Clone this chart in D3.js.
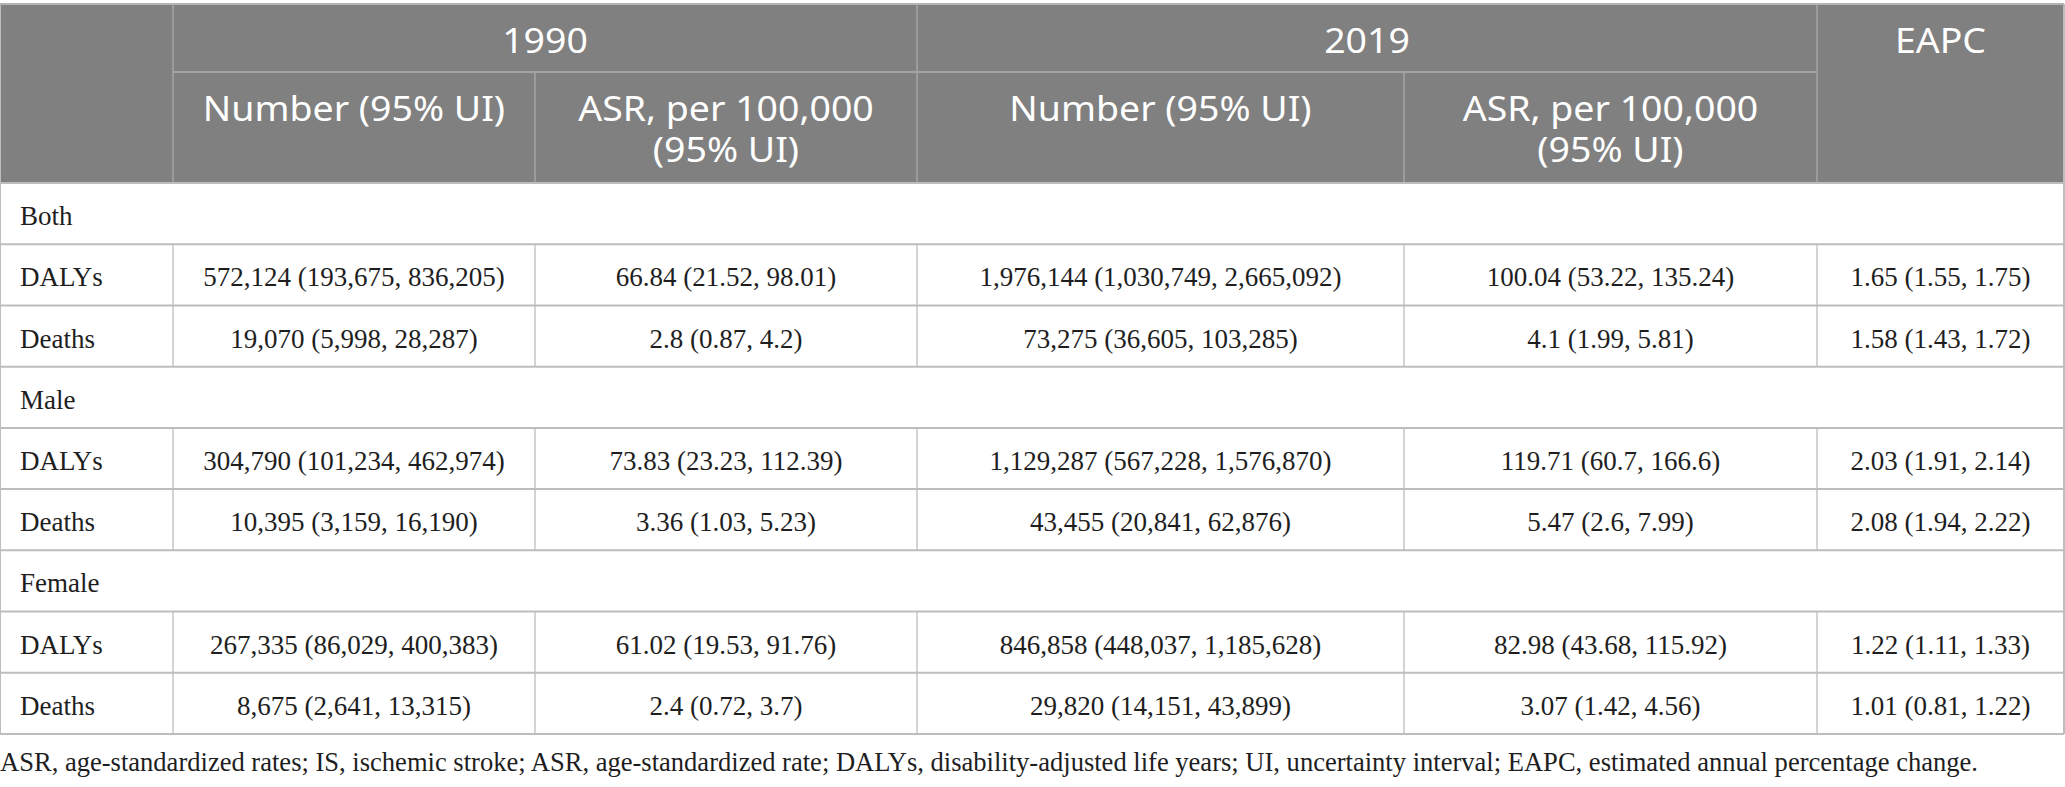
<!DOCTYPE html>
<html lang="en">
<head>
  <meta charset="UTF-8">
  <title>IS burden 1990 vs 2019</title>
  <style>
      body { margin: 0; background: white; }
      .head text { fill: white; font-family: "Noto Sans", "Open Sans", sans-serif; font-size: 35px; font-weight: 400; }
      .cell text { fill: #1e1e1e; font-family: "Liberation Serif", "DejaVu Serif", serif; font-size: 27px; }
      .note { fill: #1e1e1e; font-family: "Liberation Serif", serif; font-size: 28px; }
  </style>
</head>
<body>
<div id="table"></div>
<script src="https://d3js.org/d3.v7.min.js"></script>
<script>
  // groups and measures
  const groups = ["Both", "Male", "Female"];
  const measures = ["DALYs", "Deaths"];

  // values, one entry per group x measure: [estimate, lower, upper]
  const number1990 = [[572124, 193675, 836205], [19070, 5998, 28287],
                      [304790, 101234, 462974], [10395, 3159, 16190],
                      [267335, 86029, 400383], [8675, 2641, 13315]];
  const asr1990 = [[66.84, 21.52, 98.01], [2.8, 0.87, 4.2],
                   [73.83, 23.23, 112.39], [3.36, 1.03, 5.23],
                   [61.02, 19.53, 91.76], [2.4, 0.72, 3.7]];
  const number2019 = [[1976144, 1030749, 2665092], [73275, 36605, 103285],
                      [1129287, 567228, 1576870], [43455, 20841, 62876],
                      [846858, 448037, 1185628], [29820, 14151, 43899]];
  const asr2019 = [[100.04, 53.22, 135.24], [4.1, 1.99, 5.81],
                   [119.71, 60.7, 166.6], [5.47, 2.6, 7.99],
                   [82.98, 43.68, 115.92], [3.07, 1.42, 4.56]];
  const eapc = [[1.65, 1.55, 1.75], [1.58, 1.43, 1.72],
                [2.03, 1.91, 2.14], [2.08, 1.94, 2.22],
                [1.22, 1.11, 1.33], [1.01, 0.81, 1.22]];

  const years = ["1990", "2019"];
  const subHeads = ["Number (95% UI)", ["ASR, per 100,000", "(95% UI)"]];
  const footnote = "ASR, age-standardized rates; IS, ischemic stroke; ASR, age-standardized rate; DALYs, disability-adjusted life years; UI, uncertainty interval; EAPC, estimated annual percentage change.";

  const width = 2065, height = 787;
  const colEdges = [0, 173, 535, 917, 1404, 1817, 2064];
  const headTop = 4, headMid = 72, headBottom = 183, bodyBottom = 734;

  const svg = d3.select("#table").append("svg")
    .attr("width", width)
    .attr("height", height);

  const fmtNum = d3.format(",");
  const numText = v => `${fmtNum(v[0])} (${fmtNum(v[1])}, ${fmtNum(v[2])})`;
  const rateText = v => `${v[0]} (${v[1]}, ${v[2]})`;

  const columns = [
    {values: number1990, fmt: numText},
    {values: asr1990, fmt: rateText},
    {values: number2019, fmt: numText},
    {values: asr2019, fmt: rateText},
    {values: eapc, fmt: rateText}
  ];

  const x = d3.scaleOrdinal().domain(d3.range(colEdges.length)).range(colEdges);
  const colCenter = i => (x(i) + x(i + 1)) / 2;

  // body rows: each group has a title row then one row per measure
  const rows = [];
  groups.forEach((g, gi) => {
    rows.push({type: "group", label: g});
    measures.forEach((m, mi) => rows.push({type: "data", label: m, idx: gi * measures.length + mi}));
  });

  const y = d3.scaleBand()
    .domain(d3.range(rows.length))
    .range([headBottom, bodyBottom]);

  // stretch text a little, the header face in the original is wider than Noto
  function stretch(sel, k) {
    sel.each(function () {
      const w = this.getComputedTextLength();
      d3.select(this)
        .attr("textLength", w * k)
        .attr("lengthAdjust", "spacingAndGlyphs");
    });
  }

  // header block
  const head = svg.append("g").attr("class", "head");
  head.append("rect")
    .attr("x", x(0)).attr("y", headTop)
    .attr("width", x(6) - x(0)).attr("height", headBottom - headTop)
    .attr("fill", "#808080");

  const headLine = "#a4a4a4";
  head.append("line")
    .attr("x1", x(1)).attr("x2", x(5))
    .attr("y1", headMid).attr("y2", headMid)
    .attr("stroke", headLine).attr("stroke-width", 2);
  [1, 3, 5].forEach(i => head.append("line")
    .attr("x1", x(i)).attr("x2", x(i))
    .attr("y1", headTop).attr("y2", headBottom)
    .attr("stroke", headLine).attr("stroke-width", 1.5));
  [2, 4].forEach(i => head.append("line")
    .attr("x1", x(i)).attr("x2", x(i))
    .attr("y1", headMid).attr("y2", headBottom)
    .attr("stroke", headLine).attr("stroke-width", 1.5));

  years.forEach((yr, k) => {
    head.append("text")
      .attr("x", (x(1 + 2 * k) + x(3 + 2 * k)) / 2)
      .attr("y", 53)
      .attr("text-anchor", "middle")
      .text(yr);
    subHeads.forEach((s, j) => {
      const cx = colCenter(1 + 2 * k + j);
      const lines = Array.isArray(s) ? s : [s];
      lines.forEach((l, li) => head.append("text")
        .attr("x", cx)
        .attr("y", 121 + li * 40.5)
        .attr("text-anchor", "middle")
        .text(l));
    });
  });
  head.append("text")
    .attr("x", colCenter(5))
    .attr("y", 53)
    .attr("text-anchor", "middle")
    .text("EAPC");

  head.selectAll("text").call(stretch, 1.07);

  // body cells
  const body = svg.append("g").attr("class", "cell");
  const rowG = body.selectAll("g.row")
    .data(rows)
    .enter().append("g")
    .attr("class", "row")
    .attr("transform", (d, i) => `translate(0,${y(i)})`);

  const bh = y.bandwidth();

  rowG.append("text")
    .attr("x", 20)
    .attr("y", bh / 2 + 11.5)
    .text(d => d.label);

  rowG.filter(d => d.type === "data")
    .selectAll("text.val")
    .data(d => columns.map((c, ci) => ({text: c.fmt(c.values[d.idx]), col: ci + 1})))
    .enter().append("text")
    .attr("class", "val")
    .attr("x", d => colCenter(d.col))
    .attr("y", bh / 2 + 11.5)
    .attr("text-anchor", "middle")
    .text(d => d.text);

  // vertical rules on data rows
  rowG.filter(d => d.type === "data")
    .selectAll("line.v")
    .data([1, 2, 3, 4, 5])
    .enter().append("line")
    .attr("x1", d => x(d)).attr("x2", d => x(d))
    .attr("y1", 0).attr("y2", bh)
    .attr("stroke", "#c6c6c6").attr("stroke-width", 1.5);

  // horizontal rules
  body.selectAll("line.h")
    .data(d3.range(rows.length + 1))
    .enter().append("line")
    .attr("x1", x(0)).attr("x2", x(6))
    .attr("y1", i => i < rows.length ? y(i) : bodyBottom)
    .attr("y2", i => i < rows.length ? y(i) : bodyBottom)
    .attr("stroke", "#bdbdbd").attr("stroke-width", 2);

  // outer sides
  [0, 6].forEach(i => body.append("line")
    .attr("x1", x(i)).attr("x2", x(i))
    .attr("y1", headTop).attr("y2", bodyBottom)
    .attr("stroke", "#bdbdbd").attr("stroke-width", 2));
  body.append("line")
    .attr("x1", x(0)).attr("x2", x(6))
    .attr("y1", headTop).attr("y2", headTop)
    .attr("stroke", "#b4b4b4").attr("stroke-width", 2);

  svg.append("text")
    .attr("class", "note")
    .attr("x", 0)
    .attr("y", 771)
    .attr("textLength", 1978)
    .attr("lengthAdjust", "spacingAndGlyphs")
    .text(footnote);
</script>
</body>
</html>
